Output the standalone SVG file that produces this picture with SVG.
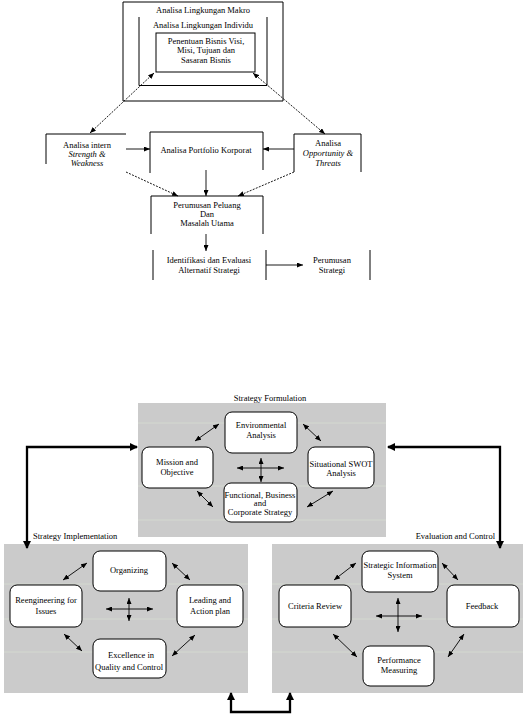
<svg xmlns="http://www.w3.org/2000/svg" width="527" height="716" viewBox="0 0 527 716">
<defs>
<style>
text{font-family:"Liberation Serif","Times New Roman",serif;font-size:8.5px;fill:#000;text-anchor:middle}
.it{font-style:italic}
.ln{fill:none;stroke:#000;stroke-width:1}
.dash{fill:none;stroke:#000;stroke-width:0.9;stroke-dasharray:2 1.3}
.thin{fill:none;stroke:#000;stroke-width:0.9}
.thick{fill:none;stroke:#000;stroke-width:2.3}
.panel{fill:#cbcbcb}
.faint{stroke:#d9dfd2;stroke-width:0.7}
.node{fill:#fff;stroke:#000;stroke-width:1}
</style>
<marker id="a" viewBox="0 0 6 5" refX="6" refY="2.5" markerWidth="6" markerHeight="5" markerUnits="userSpaceOnUse" orient="auto-start-reverse"><path d="M0,0 L6,2.5 L0,5 z" fill="#000"/></marker>
<marker id="t" viewBox="0 0 8 8" refX="7" refY="4" markerWidth="8" markerHeight="8" markerUnits="userSpaceOnUse" orient="auto-start-reverse"><path d="M0,0 L8,4 L0,8 z" fill="#000"/></marker>
</defs>

<!-- Top diagram -->
<g id="makro">
<path class="ln" d="M123,2 H283 V101 H123 Z"/>
<text x="203" y="13">Analisa Lingkungan Makro</text>
</g>
<g id="individu">
<path class="ln" d="M139,17 V85.5 H267 V17"/>
<text x="203" y="28">Analisa Lingkungan Individu</text>
</g>
<g id="visi">
<rect class="ln" x="156" y="33" width="99" height="39"/>
<text x="206" y="44">Penentuan Bisnis Visi,</text>
<text x="206" y="53">Misi, Tujuan dan</text>
<text x="206" y="63">Sasaran Bisnis</text>
</g>
<g id="intern">
<path class="ln" d="M46,164 V134 H126"/>
<text x="87" y="148">Analisa intern</text>
<text x="87" y="157" class="it">Strength &amp;</text>
<text x="87" y="166" class="it">Weakness</text>
</g>
<g id="portfolio">
<path class="ln" d="M150,173 V132 H263 V170"/>
<text x="206" y="153">Analisa Portfolio Korporat</text>
</g>
<g id="opportunity">
<path class="ln" d="M294,172 V134 H361 V172"/>
<text x="328" y="146">Analisa</text>
<text x="328" y="156" class="it">Opportunity &amp;</text>
<text x="328" y="166" class="it">Threats</text>
</g>
<g id="peluang">
<path class="ln" d="M151,234 V196 H263 V234"/>
<text x="207" y="208">Perumusan Peluang</text>
<text x="207" y="217">Dan</text>
<text x="207" y="226">Masalah Utama</text>
</g>
<g id="identifikasi">
<path class="ln" d="M153,250 V280 M266,250 V280"/>
<text x="209" y="263">Identifikasi dan Evaluasi</text>
<text x="209" y="273">Alternatif  Strategi</text>
</g>
<g id="perumusan-strategi">
<path class="ln" d="M370,250 V280"/>
<text x="332" y="263">Perumusan</text>
<text x="332" y="273">Strategi</text>
</g>

<g id="top-connectors">
<path class="dash" d="M90,133 L154,73" marker-start="url(#a)" marker-end="url(#a)"/>
<path class="dash" d="M253,73 L325,134" marker-start="url(#a)" marker-end="url(#a)"/>
<path class="thin" d="M126,149 H150" marker-end="url(#a)"/>
<path class="thin" d="M294,149 H263" marker-end="url(#a)"/>
<path class="dash" d="M126,172 L178,196" marker-end="url(#a)"/>
<path class="dash" d="M294,172 L238,196" marker-end="url(#a)"/>
<path class="thin" d="M206,170 V196" marker-end="url(#a)"/>
<path class="thin" d="M206,234 V251" marker-end="url(#a)"/>
<path class="thin" d="M266,265 H303" marker-end="url(#a)"/>
</g>

<!-- Bottom diagram panels -->
<g id="panel-formulation">
<rect class="panel" x="138" y="403" width="248" height="134"/>
<path class="faint" d="M138,423 H386 M138,486 H386 M138,520 H386"/>
<text x="270" y="401">Strategy Formulation</text>
</g>
<g id="panel-implementation">
<rect class="panel" x="4" y="544" width="244" height="149"/>
<path class="faint" d="M4,584 H248 M4,619 H248 M4,652 H248"/>
<text x="33" y="539" style="text-anchor:start">Strategy Implementation</text>
</g>
<g id="panel-evaluation">
<rect class="panel" x="272" y="544" width="251" height="149"/>
<path class="faint" d="M272,584 H523 M272,619 H523 M272,652 H523"/>
<text x="495" y="539" style="text-anchor:end">Evaluation and Control</text>
</g>

<g id="environmental">
<rect class="node" x="225" y="412" width="72" height="41" rx="7"/>
<text x="261" y="428">Environmental</text>
<text x="261" y="438">Analysis</text>
</g>
<g id="mission">
<rect class="node" x="142" y="447" width="71" height="41" rx="7"/>
<text x="177" y="465">Mission and</text>
<text x="177" y="475">Objective</text>
</g>
<g id="swot">
<rect class="node" x="308" y="447" width="66" height="41" rx="7"/>
<text x="341" y="467">Situational SWOT</text>
<text x="341" y="476">Analysis</text>
</g>
<g id="functional">
<rect class="node" x="224" y="483" width="73" height="39" rx="7"/>
<text x="260" y="497.5">Functional, Business</text>
<text x="260" y="506">and</text>
<text x="260" y="515">Corporate Strategy</text>
</g>

<g id="organizing">
<rect class="node" x="93" y="551" width="73" height="40" rx="7"/>
<text x="129" y="573">Organizing</text>
</g>
<g id="reengineering">
<rect class="node" x="10" y="585" width="72" height="42" rx="7"/>
<text x="46" y="603">Reengineering for</text>
<text x="46" y="614">Issues</text>
</g>
<g id="leading">
<rect class="node" x="177" y="585" width="66" height="42" rx="7"/>
<text x="210" y="603">Leading and</text>
<text x="210" y="614">Action plan</text>
</g>
<g id="excellence">
<rect class="node" x="93" y="639" width="73" height="39" rx="7"/>
<text x="131" y="658">Excellence in</text>
<text x="129" y="670">Quality and Control</text>
</g>

<g id="sis">
<rect class="node" x="362" y="551" width="76" height="41" rx="7"/>
<text x="400" y="568">Strategic Information</text>
<text x="400" y="578">System</text>
</g>
<g id="criteria">
<rect class="node" x="279" y="585" width="72" height="42" rx="7"/>
<text x="315" y="609">Criteria Review</text>
</g>
<g id="feedback">
<rect class="node" x="447" y="585" width="72" height="42" rx="7"/>
<text x="482" y="609">Feedback</text>
</g>
<g id="performance">
<rect class="node" x="363" y="646" width="71" height="40" rx="7"/>
<text x="399" y="663">Performance</text>
<text x="399" y="673">Measuring</text>
</g>

<g id="bottom-connectors">
<path class="thin" d="M195,441 L219,424" marker-start="url(#a)" marker-end="url(#a)"/>
<path class="thin" d="M303,424 L321,441" marker-start="url(#a)" marker-end="url(#a)"/>
<path class="thin" d="M197,491 L213,507" marker-start="url(#a)" marker-end="url(#a)"/>
<path class="thin" d="M307,507 L333,491" marker-start="url(#a)" marker-end="url(#a)"/>
<path class="thin" d="M237,468 H284" marker-start="url(#a)" marker-end="url(#a)"/>
<path class="thin" d="M261,458 V482" marker-start="url(#a)" marker-end="url(#a)"/>

<path class="thin" d="M63,580 L87,563" marker-start="url(#a)" marker-end="url(#a)"/>
<path class="thin" d="M172,563 L190,580" marker-start="url(#a)" marker-end="url(#a)"/>
<path class="thin" d="M64,634 L82,651" marker-start="url(#a)" marker-end="url(#a)"/>
<path class="thin" d="M172,656 L195,635" marker-start="url(#a)" marker-end="url(#a)"/>
<path class="thin" d="M106,609 H153" marker-start="url(#a)" marker-end="url(#a)"/>
<path class="thin" d="M129,598 V621" marker-start="url(#a)" marker-end="url(#a)"/>

<path class="thin" d="M334,580 L356,563" marker-start="url(#a)" marker-end="url(#a)"/>
<path class="thin" d="M442,563 L458,580" marker-start="url(#a)" marker-end="url(#a)"/>
<path class="thin" d="M333,634 L357,657" marker-start="url(#a)" marker-end="url(#a)"/>
<path class="thin" d="M448,657 L464,634" marker-start="url(#a)" marker-end="url(#a)"/>
<path class="thin" d="M376,616 H422" marker-start="url(#a)" marker-end="url(#a)"/>
<path class="thin" d="M398,598 V632" marker-start="url(#a)" marker-end="url(#a)"/>

<path class="thick" d="M27,548 V447 H137" marker-start="url(#t)" marker-end="url(#t)"/>
<path class="thick" d="M500,548 V447 H388" marker-start="url(#t)" marker-end="url(#t)"/>
<path class="thick" d="M231,693 V712 H290 V693" marker-start="url(#t)" marker-end="url(#t)"/>
</g>
</svg>
